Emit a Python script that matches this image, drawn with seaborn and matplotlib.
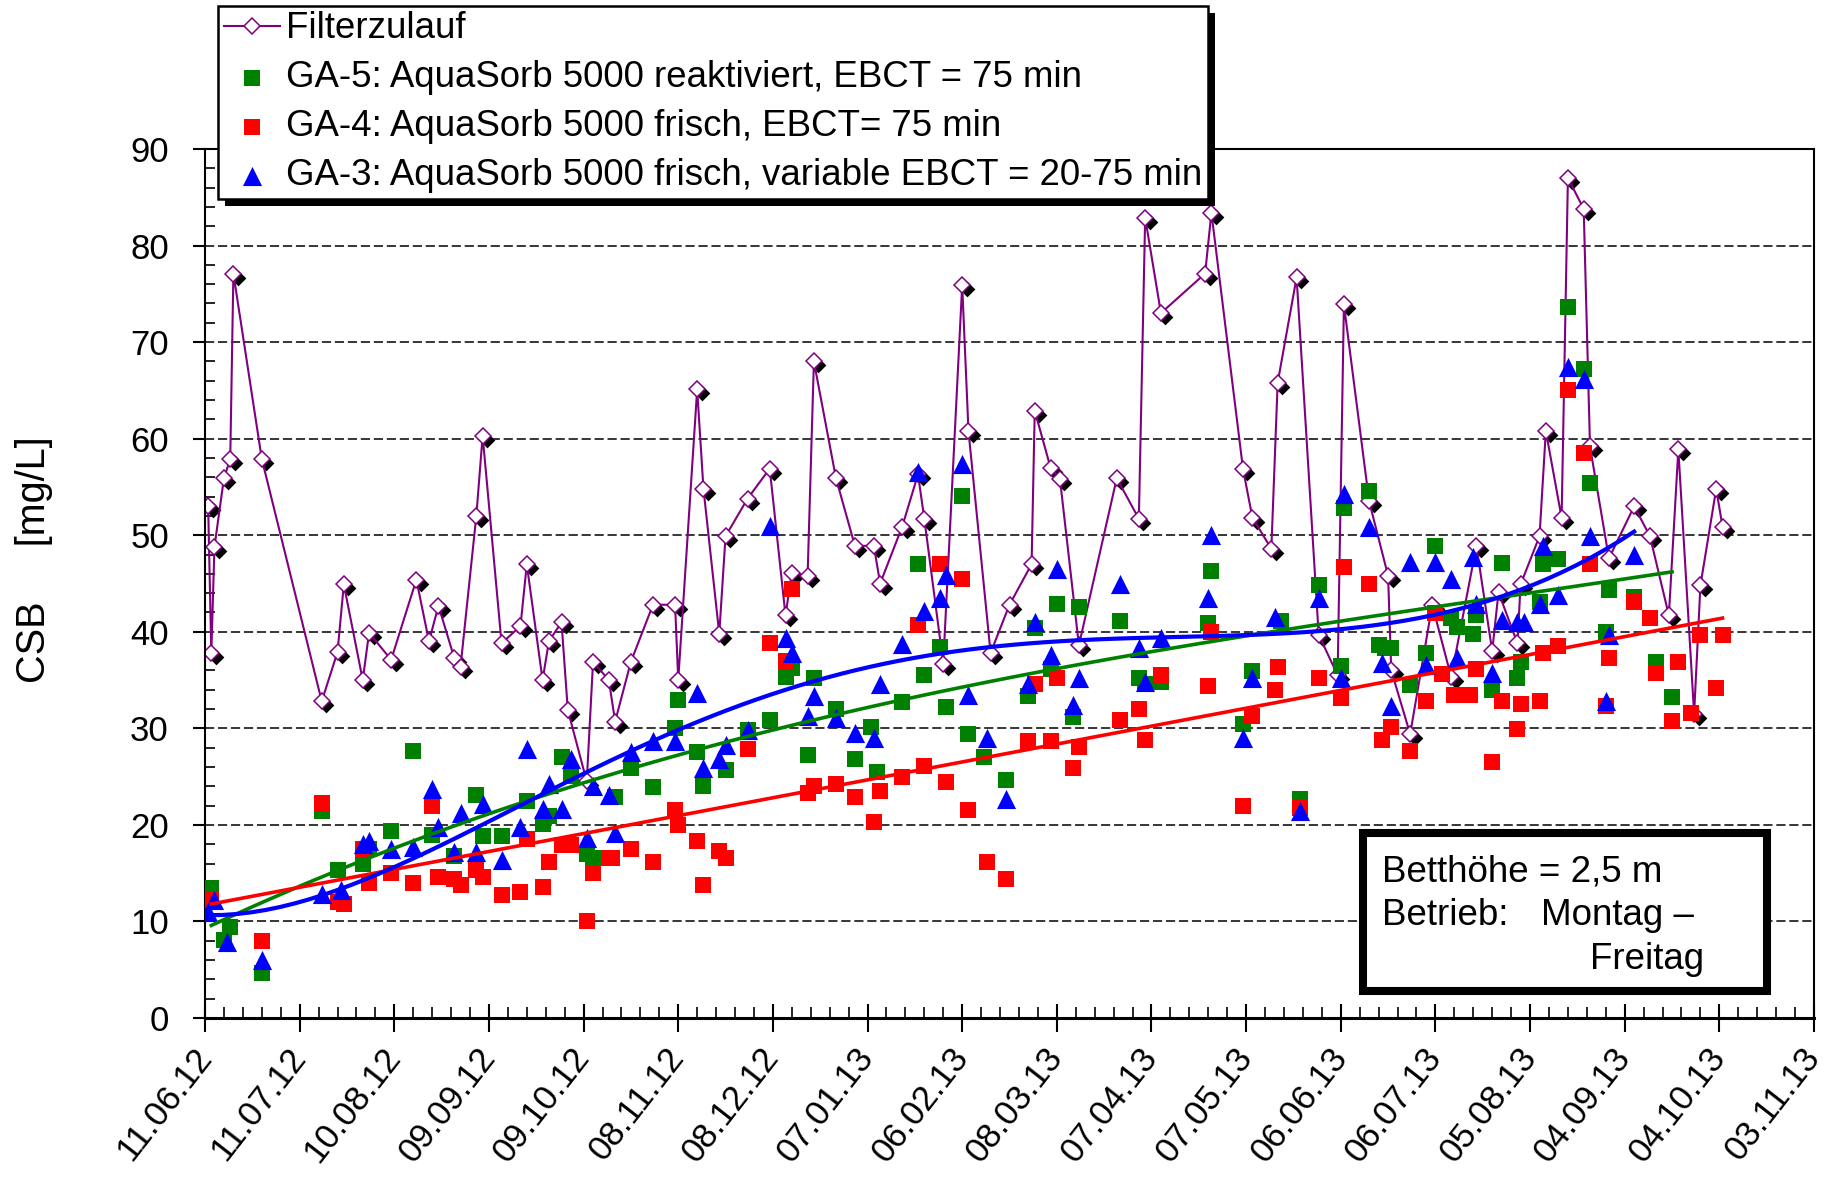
import matplotlib
matplotlib.use("Agg")
import matplotlib.pyplot as plt
import matplotlib.transforms as mtransforms
from matplotlib.patches import Rectangle
from matplotlib.ticker import MultipleLocator, FuncFormatter
import seaborn as sns
import pandas as pd

# Tage seit 11.06.12 und CSB-Werte [mg/L]
fz_tage = [1, 2, 3, 6, 8, 9, 18, 37, 42, 44, 50, 52, 59, 67, 71, 74, 79, 81, 86, 88,
           94, 100, 102, 107, 109, 113, 115, 121, 123, 128, 130, 135, 142, 149, 150,
           156, 158, 163, 165, 172, 179, 184, 186, 191, 193, 200, 206, 212, 214, 221,
           226, 228, 234, 240, 242, 249, 255, 262, 263, 268, 271, 277, 289, 296, 298,
           303, 317, 319, 329, 332, 338, 340, 346, 353, 359, 361, 369, 375, 376, 382,
           389, 395, 403, 408, 410, 416, 417, 423, 425, 430, 432, 437, 439, 445, 453,
           458, 464, 467, 472, 474, 479, 481]
fz_werte = [53.0, 37.8, 48.8, 55.9, 57.9, 77.1, 57.9, 32.8, 37.9, 44.9, 35.0, 39.9, 37.1,
            45.4, 39.0, 42.7, 37.3, 36.4, 52.0, 60.3, 38.8, 40.6, 47.0, 35.0, 39.0, 41.0,
            31.9, 24.5, 36.9, 35.0, 30.7, 36.9, 42.8, 42.8, 35.0, 65.1, 54.8, 39.8, 49.9,
            53.8, 56.9, 41.7, 46.1, 45.8, 68.0, 55.9, 48.9, 48.9, 45.0, 50.9, 56.3, 51.7,
            36.7, 75.9, 60.8, 37.8, 42.8, 47.0, 62.9, 57.0, 55.8, 38.6, 55.9, 51.7, 82.9,
            73.0, 77.1, 83.4, 56.9, 51.8, 48.6, 65.8, 76.7, 39.7, 35.5, 73.9, 53.5, 45.8,
            36.0, 29.4, 42.8, 35.3, 48.9, 38.0, 44.1, 38.8, 44.9, 49.9, 60.8, 51.8, 87.0,
            83.8, 59.2, 47.6, 53.0, 49.9, 41.7, 58.9, 31.5, 44.8, 54.8, 50.9]

ga5_tage = [2, 6, 8, 18, 37, 42, 50, 52, 59, 66, 72, 79, 86, 88, 94, 102, 107, 109, 113,
            116, 121, 123, 130, 135, 142, 149, 150, 156, 158, 165, 172, 179, 184, 186,
            191, 193, 200, 206, 211, 213, 221, 226, 228, 233, 235, 240, 242, 247, 254,
            261, 263, 268, 270, 275, 277, 290, 296, 298, 303, 318, 319, 329, 332, 341,
            347, 353, 360, 361, 369, 372, 374, 376, 382, 387, 390, 395, 397, 402, 403,
            408, 411, 416, 417, 423, 424, 429, 432, 437, 439, 444, 445, 453, 460, 465]
ga5_werte = [13.5, 8.1, 9.4, 4.7, 21.4, 15.3, 16.0, 17.5, 19.4, 27.7, 19.0, 16.8, 23.1,
             18.8, 18.8, 22.5, 20.1, 20.9, 27.0, 25.1, 17.0, 16.6, 22.9, 25.9, 23.9, 30.0,
             32.9, 27.5, 24.0, 25.7, 29.8, 30.9, 35.3, 36.2, 27.2, 35.2, 32.0, 26.8, 30.1,
             25.5, 32.7, 47.0, 35.5, 38.4, 32.2, 54.1, 29.4, 27.0, 24.6, 33.3, 40.4, 36.1,
             42.9, 31.2, 42.6, 41.1, 35.2, 34.6, 34.8, 40.9, 46.3, 30.4, 35.9, 41.1, 22.7,
             44.8, 36.5, 52.8, 54.6, 38.6, 38.3, 38.3, 34.5, 37.8, 48.9, 41.4, 40.5, 39.8,
             41.7, 34.0, 47.1, 35.2, 36.9, 43.1, 47.0, 47.5, 73.6, 67.2, 55.4, 40.0, 44.3,
             43.6, 36.9, 33.2]

ga4_tage = [2, 18, 37, 42, 44, 50, 52, 59, 66, 72, 74, 79, 81, 86, 88, 94, 100, 102, 107,
            109, 113, 116, 121, 123, 128, 129, 135, 142, 149, 150, 156, 158, 163, 165,
            172, 179, 184, 186, 191, 193, 200, 206, 212, 214, 221, 226, 228, 233, 235,
            240, 242, 248, 254, 261, 263, 268, 270, 275, 277, 290, 296, 298, 303, 318,
            319, 329, 332, 339, 340, 347, 353, 360, 361, 369, 373, 376, 382, 387, 390,
            392, 396, 401, 403, 408, 411, 416, 417, 423, 424, 429, 432, 437, 439, 444,
            445, 453, 458, 460, 465, 467, 471, 474, 479, 481]
ga4_werte = [12.2, 8.0, 22.3, 12.0, 11.8, 17.5, 14.0, 15.0, 14.0, 22.0, 14.6, 14.4, 13.8,
             15.3, 14.6, 12.7, 13.1, 18.5, 13.6, 16.2, 17.9, 17.9, 10.0, 15.0, 16.6, 16.6,
             17.5, 16.2, 21.5, 20.0, 18.3, 13.8, 17.3, 16.6, 27.9, 38.8, 37.0, 44.4, 23.3,
             24.0, 24.2, 22.9, 20.3, 23.5, 25.0, 40.7, 26.1, 47.0, 24.4, 45.5, 21.5, 16.2,
             14.4, 28.7, 34.6, 28.7, 35.2, 25.9, 28.1, 30.9, 32.0, 28.8, 35.5, 34.4, 40.0,
             22.0, 31.3, 34.0, 36.4, 21.7, 35.2, 33.1, 46.7, 45.0, 28.8, 30.1, 27.7, 32.8,
             41.9, 35.6, 33.5, 33.5, 36.1, 26.5, 32.8, 29.9, 32.5, 32.8, 37.8, 38.5, 65.0,
             58.5, 47.0, 32.3, 37.3, 43.1, 41.4, 35.7, 30.8, 36.9, 31.6, 39.7, 34.2, 39.7]

ga3_tage = [1, 3, 7, 18, 37, 43, 50, 52, 59, 66, 72, 74, 79, 81, 86, 88, 94, 100, 102, 107,
            109, 113, 116, 121, 123, 128, 130, 135, 142, 149, 156, 158, 163, 165, 172,
            179, 184, 186, 191, 193, 200, 206, 212, 214, 221, 226, 228, 233, 235, 240,
            242, 248, 254, 261, 263, 268, 270, 275, 277, 290, 296, 298, 303, 318, 319,
            329, 332, 339, 347, 353, 360, 361, 369, 373, 376, 382, 387, 390, 395, 397,
            402, 403, 408, 411, 416, 418, 423, 424, 429, 432, 437, 439, 444, 445, 453]
ga3_werte = [11.0, 12.2, 7.9, 6.0, 12.8, 13.3, 18.0, 18.3, 17.5, 17.7, 23.7, 19.8, 17.2,
             21.2, 17.2, 22.2, 16.4, 19.8, 27.9, 21.6, 24.2, 21.6, 26.8, 18.6, 24.0, 23.1,
             19.2, 27.5, 28.7, 28.7, 33.7, 25.9, 26.8, 28.3, 29.8, 51.0, 39.4, 37.8, 31.3,
             33.3, 31.1, 29.5, 29.0, 34.6, 38.7, 56.5, 42.2, 43.5, 45.9, 57.4, 33.5, 29.0,
             22.7, 34.6, 41.0, 37.6, 46.5, 32.4, 35.2, 45.0, 38.3, 34.8, 39.4, 43.5, 50.0,
             29.0, 35.2, 41.5, 21.4, 43.5, 35.2, 54.3, 50.9, 36.8, 32.3, 47.2, 36.6, 47.2,
             45.5, 37.3, 47.7, 42.9, 35.7, 41.2, 41.0, 41.0, 42.9, 48.9, 43.8, 67.4, 66.2,
             49.9, 32.8, 39.7, 47.9]

start = pd.Timestamp("2012-06-11")
x_ende = 510

label_fz = "Filterzulauf"
label_ga5 = "GA-5: AquaSorb 5000 reaktiviert, EBCT = 75 min"
label_ga4 = "GA-4: AquaSorb 5000 frisch, EBCT= 75 min"
label_ga3 = "GA-3: AquaSorb 5000 frisch, variable EBCT = 20-75 min"

plt.rcParams['font.family'] = ['Liberation Sans', 'DejaVu Sans']

W, H = 1829, 1179
fig = plt.figure(figsize=(W / 100, H / 100), dpi=100)
ax = fig.add_axes([205 / W, 1 - 1018 / H, (1814 - 205) / W, (1018 - 149) / H])

# Filterzulauf: Schatten, Linie, Rauten
sns.scatterplot(x=fz_tage, y=fz_werte, marker='D', s=64, color='black', linewidth=0,
                ax=ax, legend=False, zorder=1)
shadow = ax.collections[-1]
shadow.set_offset_transform(ax.transData + mtransforms.ScaledTranslation(0.045, -0.04, fig.dpi_scale_trans))
sns.lineplot(x=fz_tage, y=fz_werte, sort=False, estimator=None, color='#800080', lw=1.5,
             marker='D', markersize=8, markerfacecolor='white', markeredgecolor='#800080',
             markeredgewidth=1.1, label=label_fz, ax=ax, zorder=2)

sns.scatterplot(x=ga5_tage, y=ga5_werte, marker='s', s=145, color='#008000', linewidth=0,
                label=label_ga5, ax=ax, zorder=3)
sns.scatterplot(x=ga4_tage, y=ga4_werte, marker='s', s=145, color='#FF0000', linewidth=0,
                label=label_ga4, ax=ax, zorder=3)
sns.scatterplot(x=ga3_tage, y=ga3_werte, marker='^', s=190, color='#0000FF', linewidth=0,
                label=label_ga3, ax=ax, zorder=3)

# Trendlinien
sns.regplot(x=ga5_tage, y=ga5_werte, order=3, scatter=False, ci=None, color='#008000',
            line_kws={'lw': 2.6, 'zorder': 4}, ax=ax)
sns.regplot(x=ga4_tage, y=ga4_werte, order=1, scatter=False, ci=None, color='#FF0000',
            line_kws={'lw': 2.6, 'zorder': 4}, ax=ax)
sns.regplot(x=ga3_tage, y=ga3_werte, order=5, scatter=False, ci=None, color='#0000FF',
            line_kws={'lw': 3.0, 'zorder': 4}, ax=ax)

ax.set_xlim(0, x_ende)
ax.set_ylim(0, 90)
ax.set_xlabel("")
ax.set_ylabel("")

ax.xaxis.set_major_locator(MultipleLocator(30))
ax.xaxis.set_minor_locator(MultipleLocator(6))
ax.xaxis.set_major_formatter(FuncFormatter(
    lambda v, p: (start + pd.Timedelta(days=int(round(v)))).strftime("%d.%m.%y")))
ax.yaxis.set_major_locator(MultipleLocator(10))
ax.yaxis.set_minor_locator(MultipleLocator(2))

ax.tick_params(axis='x', which='major', direction='inout', length=20, width=1.5,
               pad=14, labelsize=25)
ax.tick_params(axis='x', which='minor', direction='in', length=8, width=1.2)
ax.tick_params(axis='y', which='major', direction='out', length=9, width=1.5,
               pad=17, labelsize=25)
ax.tick_params(axis='y', which='minor', direction='in', length=7, width=1.2)
for lab in ax.get_xticklabels():
    lab.set_rotation(52)
    lab.set_ha('right')
    lab.set_va('center')
    lab.set_rotation_mode('anchor')

ax.set_axisbelow(True)
ax.yaxis.grid(True, which='major', color='black', lw=1.1, linestyle=(0, (6, 2.5)))
for sp in ax.spines.values():
    sp.set_linewidth(1.5)
    sp.set_color('black')
ax.spines['bottom'].set_linewidth(2.2)

fig.text(34.5 / W, 1 - 560 / H, "CSB     [mg/L]", rotation=90, ha='center', va='center',
         fontsize=28.5)

# Legende mit schwarzem Schatten
handles, labels = ax.get_legend_handles_labels()
if ax.get_legend() is not None:
    ax.get_legend().remove()
leg = fig.legend(handles, labels, loc='upper left', bbox_to_anchor=(218 / W, 1 - 6 / H),
                 bbox_transform=fig.transFigure, fontsize=26.4, frameon=True, fancybox=False,
                 edgecolor='black', framealpha=1, borderpad=0.15, labelspacing=0.38,
                 handlelength=1.55, handletextpad=0.15, borderaxespad=0, markerscale=1.0)
leg.get_frame().set_linewidth(1.8)
fig.canvas.draw()
bb = leg.get_window_extent().transformed(fig.transFigure.inverted())
fig.add_artist(Rectangle((bb.x0 + 7 / W, bb.y0 - 7 / H), bb.width, bb.height,
                         transform=fig.transFigure, facecolor='black', edgecolor='none',
                         zorder=4.9))

# Textbox
fig.add_artist(Rectangle((1363 / W, 1 - 991 / H), (1767 - 1363) / W, (991 - 833) / H,
                         transform=fig.transFigure, facecolor='white', edgecolor='black',
                         lw=5.8, zorder=6))
fig.text(1382 / W, 1 - 882 / H, "Betthöhe = 2,5 m", fontsize=26.5, va='baseline', zorder=7)
fig.text(1382 / W, 1 - 925 / H, "Betrieb:", fontsize=26.5, va='baseline', zorder=7)
fig.text(1541 / W, 1 - 925 / H, "Montag –", fontsize=26.5, va='baseline', zorder=7)
fig.text(1590 / W, 1 - 969 / H, "Freitag", fontsize=26.5, va='baseline', zorder=7)

fig.savefig("out.png", dpi=100)
